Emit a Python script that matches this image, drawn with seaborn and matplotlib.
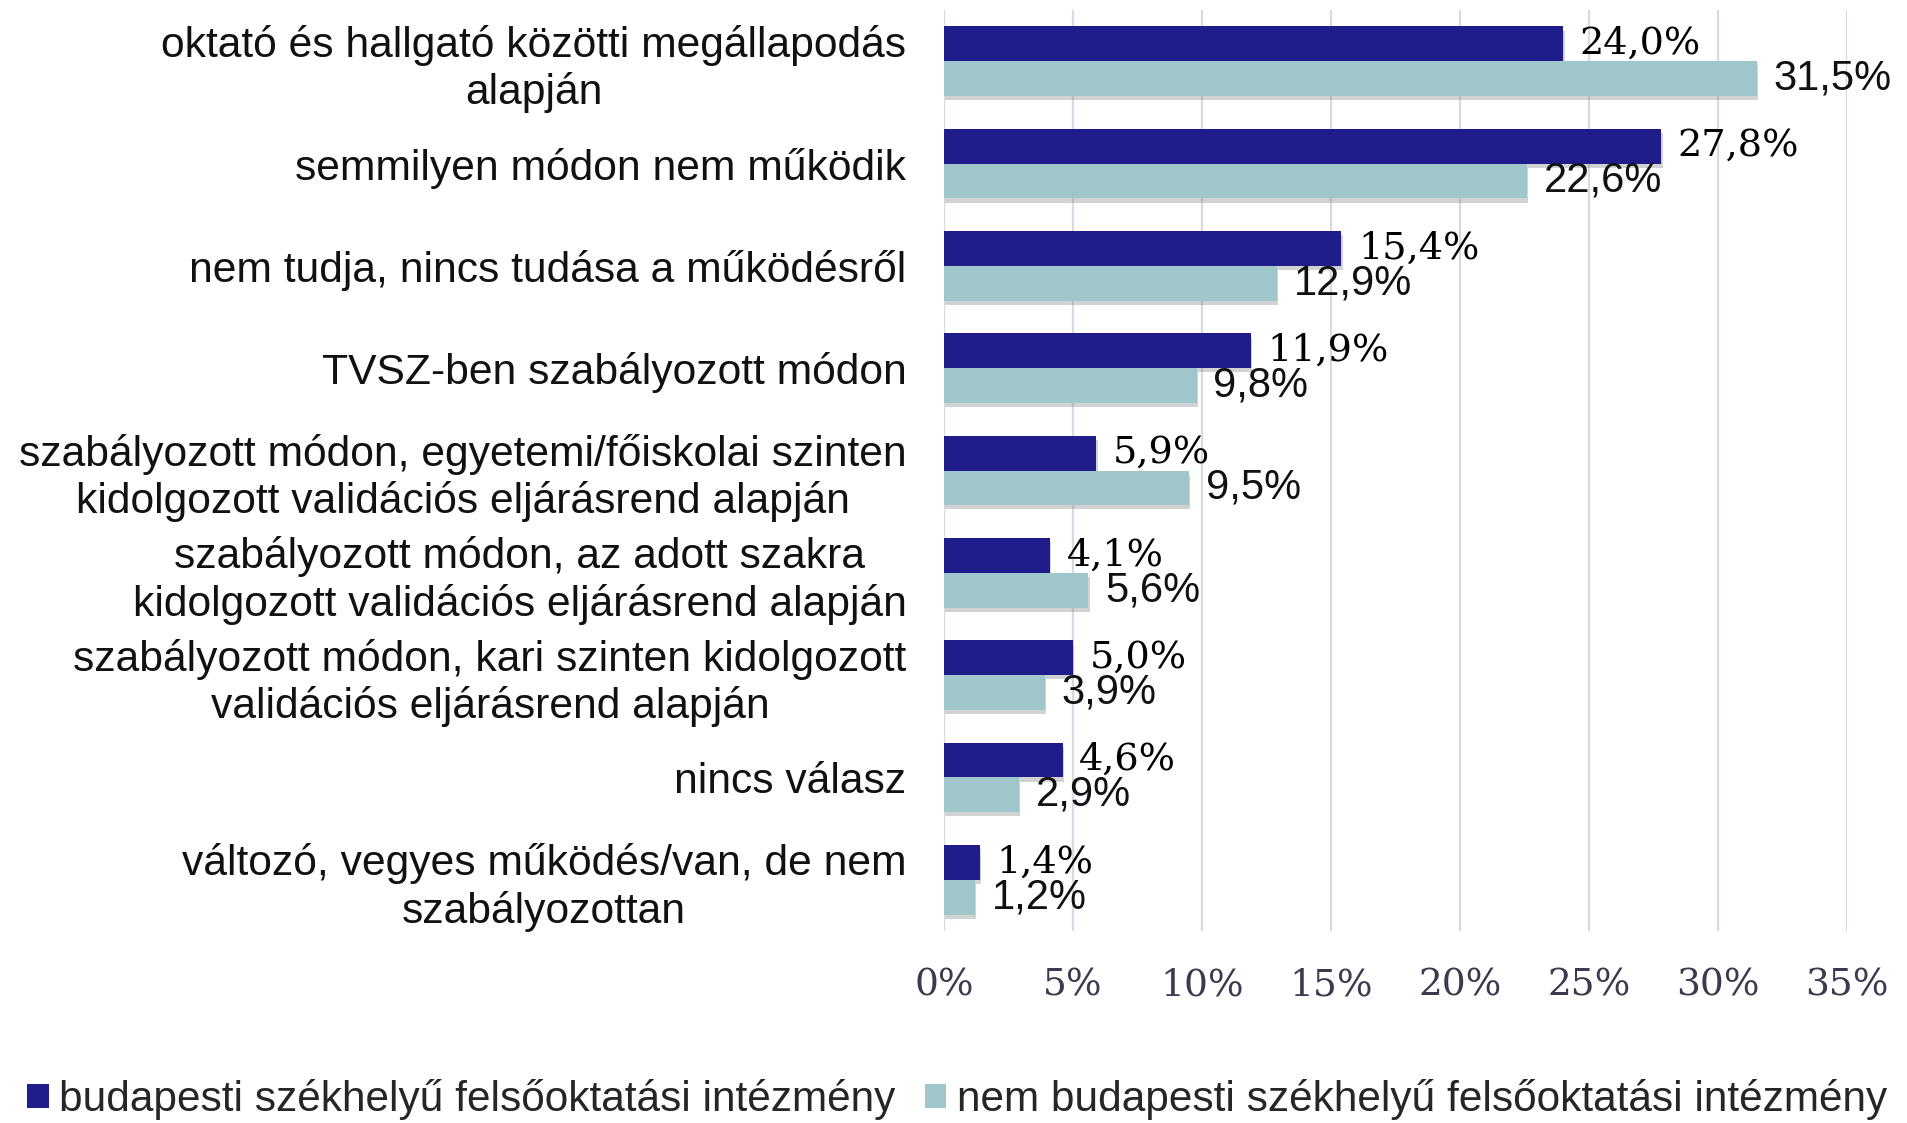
import numpy as np
import pandas as pd
import matplotlib
matplotlib.use("Agg")
import matplotlib.pyplot as plt
import matplotlib.patheffects as pe
from matplotlib.patches import Patch
import seaborn as sns

categories = [
    "oktató és hallgató közötti megállapodás\nalapján",
    "semmilyen módon nem működik",
    "nem tudja, nincs tudása a működésről",
    "TVSZ-ben szabályozott módon",
    "szabályozott módon, egyetemi/főiskolai szinten\nkidolgozott validációs eljárásrend alapján",
    "szabályozott módon, az adott szakra\nkidolgozott validációs eljárásrend alapján",
    "szabályozott módon, kari szinten kidolgozott\nvalidációs eljárásrend alapján",
    "nincs válasz",
    "változó, vegyes működés/van, de nem\nszabályozottan",
]
series_names = ["budapesti székhelyű felsőoktatási intézmény",
                "nem budapesti székhelyű felsőoktatási intézmény"]
budapest = [24.0, 27.8, 15.4, 11.9, 5.9, 4.1, 5.0, 4.6, 1.4]
nem_budapest = [31.5, 22.6, 12.9, 9.8, 9.5, 5.6, 3.9, 2.9, 1.2]
x_ticks = [0, 5, 10, 15, 20, 25, 30, 35]

DARK = "#1f1c8c"
LIGHT = "#9fc6ca"

df = pd.DataFrame({
    "cat": categories * 2,
    "val": budapest + nem_budapest,
    "grp": [series_names[0]] * len(categories) + [series_names[1]] * len(categories),
})

sns.set_theme(style="white")
plt.rcParams["font.family"] = ["Liberation Sans", "DejaVu Sans"]

fig = plt.figure(figsize=(19.07, 11.23), dpi=100)
ax = fig.add_axes([0.495, 0.171, 0.9685 - 0.495, 0.991 - 0.171])

sns.barplot(data=df, y="cat", x="val", hue="grp", hue_order=series_names,
            order=categories, palette=[DARK, LIGHT], saturation=1,
            width=0.68, orient="h", legend=False, ax=ax, zorder=3)

shadow = [pe.withSimplePatchShadow(offset=(1, -3), shadow_rgbFace="#808080", alpha=0.35)]
for cont in ax.containers:
    for bar in cont:
        bar.set_path_effects(shadow)
        bar.set_linewidth(0)

fmt = lambda v: f"{v:.1f}".replace(".", ",") + "%"
ax.bar_label(ax.containers[0], labels=[fmt(v) for v in budapest], padding=12,
             fontsize=27.5, family="DejaVu Serif", color="#000000")
ax.bar_label(ax.containers[1], labels=[fmt(v) for v in nem_budapest], padding=12,
             fontsize=30, color="#111111")

ax.set_xlim(0, 35)
ax.set_xticks(x_ticks)
ax.set_xticklabels([f"{t}%" for t in x_ticks], fontsize=27, family="DejaVu Serif",
                   color="#3b3a4f")
ax.tick_params(axis="x", length=0, pad=26)
ax.tick_params(axis="y", length=0, pad=27, labelsize=30.7, labelcolor="#111111")
for t in ax.get_yticklabels():
    t.set_multialignment("center")
ax.set_xlabel("")
ax.set_ylabel("")
ax.grid(axis="x", color="#d9d9e3", linewidth=1.6, zorder=0)
ax.grid(axis="y", visible=False)
for s in ax.spines.values():
    s.set_visible(False)

handles = [Patch(facecolor=DARK, edgecolor="none"), Patch(facecolor=LIGHT, edgecolor="none")]
fig.legend(handles, series_names, loc="center", bbox_to_anchor=(0.502, 0.021),
           ncol=2, frameon=False, fontsize=30.5, handlelength=0.5, handleheight=0.5,
           handletextpad=0.25, columnspacing=0.7, borderpad=0, borderaxespad=0)

fig.savefig("out.png", dpi=100)
